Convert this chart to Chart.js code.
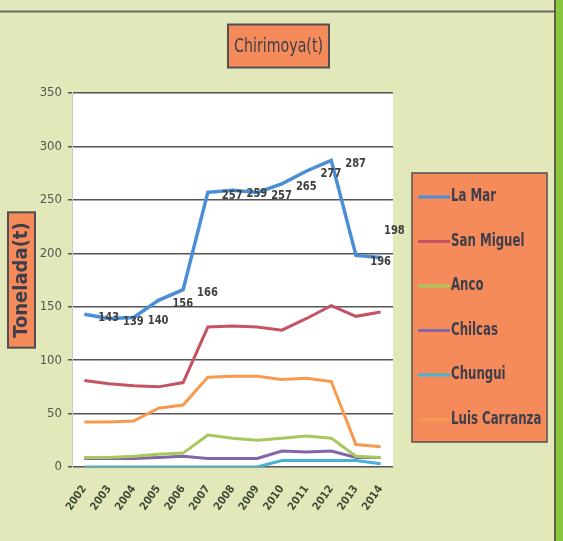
<!DOCTYPE html>
<html>
<head>
<meta charset="utf-8">
<script src="https://cdn.jsdelivr.net/npm/chart.js@4/dist/chart.umd.min.js"></script>
<style>
  html, body { margin: 0; padding: 0; background: #e3e8ba; }
  #wrap { width: 563px; height: 541px; }
</style>
</head>
<body>
<div id="wrap"><canvas id="chirimoyaChart"></canvas></div>
<script>
// Producción de chirimoya por distrito (toneladas)
const titulo = 'Chirimoya(t)';
const years = ['2002', '2003', '2004', '2005', '2006', '2007', '2008', '2009', '2010', '2011', '2012', '2013', '2014'];
const laMar = [143, 139, 140, 156, 166, 257, 259, 257, 265, 277, 287, 198, 196];
const sanMiguel = [81, 78, 76, 75, 79, 131, 132, 131, 128, 139, 151, 141, 145];
const anco = [9, 9, 10, 12, 13, 30, 27, 25, 27, 29, 27, 10, 9];
const chilcas = [8, 8, 8, 9, 10, 8, 8, 8, 15, 14, 15, 9, 9];
const chungui = [0, 0, 0, 0, 0, 0, 0, 0, 6, 6, 6, 6, 3];
const luisCarranza = [42, 42, 43, 55, 58, 84, 85, 85, 82, 83, 80, 21, 19];
const yTicks = [0, 50, 100, 150, 200, 250, 300, 350];

const NARROW = "'Liberation Sans Narrow', 'DejaVu Sans Condensed', 'Open Sans', sans-serif";
const BG = '#e3e8ba';
const BOX_ORANGE = '#f58b5a';
const BOX_BORDER = '#505050';
const TEXT_DARK = '#3e3e4a';

function serie(label, data, color, width) {
    return {
        label: label,
        data: data,
        borderColor: color,
        backgroundColor: color,
        borderWidth: width || 3,
        pointRadius: 0,
        tension: 0,
        fill: false
    };
}

// texto comprimido horizontalmente (imita la fuente angosta del original)
function textoAngosto(ctx, text, x, y, sx) {
    ctx.save();
    ctx.translate(x, y);
    ctx.scale(sx, 1);
    ctx.fillText(text, 0, 0);
    ctx.restore();
}

// Fondo, recuadros del título y del eje Y, marco de la hoja
const fondoPlugin = {
    id: 'fondo',
    beforeDraw(chart) {
        const {ctx, chartArea, width, height} = chart;
        ctx.save();
        ctx.fillStyle = BG;
        ctx.fillRect(0, 0, width, height);
        ctx.fillStyle = '#ffffff';
        ctx.fillRect(chartArea.left, chartArea.top, chartArea.right - chartArea.left, chartArea.bottom - chartArea.top);

        // título en recuadro naranja
        const tcx = width / 2 - 3;
        const tcy = 45.5;
        ctx.font = `20px ${NARROW}`;
        const tw = ctx.measureText(titulo).width * 0.79;
        ctx.fillStyle = BOX_ORANGE;
        ctx.strokeStyle = BOX_BORDER;
        ctx.lineWidth = 2;
        ctx.fillRect(tcx - tw / 2 - 6, tcy - 21, tw + 12, 43);
        ctx.strokeRect(tcx - tw / 2 - 6, tcy - 21, tw + 12, 43);
        ctx.fillStyle = TEXT_DARK;
        ctx.textAlign = 'center';
        ctx.textBaseline = 'middle';
        textoAngosto(ctx, titulo, tcx, tcy + 1, 0.79);

        // recuadro del título del eje Y
        const yOpts = chart.options.scales.y.title;
        const ys = chart.scales.y;
        ctx.font = `bold ${yOpts.font.size}px ${NARROW}`;
        const yw = ctx.measureText(yOpts.text).width;
        const ycx = ys.left + yOpts.padding.top + yOpts.font.size * 0.6;
        const ycy = (chartArea.top + chartArea.bottom) / 2;
        ctx.fillStyle = BOX_ORANGE;
        ctx.fillRect(ycx - 13.5, ycy - yw / 2 - 10, 27, yw + 20);
        ctx.strokeRect(ycx - 13.5, ycy - yw / 2 - 10, 27, yw + 20);

        // marco de la hoja escaneada
        ctx.strokeStyle = '#6a6a6a';
        ctx.lineWidth = 2;
        ctx.beginPath();
        ctx.moveTo(0, 11.5);
        ctx.lineTo(555, 11.5);
        ctx.stroke();
        ctx.fillStyle = '#8cc63e';
        ctx.fillRect(556, 0, width - 556, height);
        ctx.strokeStyle = '#2e3a22';
        ctx.lineWidth = 1.5;
        ctx.beginPath();
        ctx.moveTo(555, 0);
        ctx.lineTo(555, height);
        ctx.stroke();
        ctx.restore();
    }
};

// Etiquetas de datos de La Mar
const etiquetasPlugin = {
    id: 'etiquetas',
    afterDatasetsDraw(chart) {
        const {ctx} = chart;
        const meta = chart.getDatasetMeta(0);
        const values = chart.data.datasets[0].data;
        const n = meta.data.length;
        ctx.save();
        ctx.font = `bold 13px ${NARROW}`;
        ctx.fillStyle = '#404040';
        ctx.textBaseline = 'middle';
        meta.data.forEach((pt, i) => {
            let x = pt.x + 14, y = pt.y + 3, align = 'left';
            if (i === n - 1) { x = pt.x; align = 'center'; y = pt.y + 4; }
            if (i === n - 2) { x = pt.x + 28; y = pt.y - 25; }
            ctx.textAlign = align;
            textoAngosto(ctx, String(values[i]), x, y, 0.85);
        });
        ctx.restore();
    }
};

// Leyenda en recuadro naranja
const leyendaPlugin = {
    id: 'leyenda',
    afterDraw(chart) {
        const {ctx, chartArea} = chart;
        const left = chartArea.right + 19;
        const top = chartArea.top + 80;
        const w = 135, h = 269;
        ctx.save();
        ctx.fillStyle = BOX_ORANGE;
        ctx.strokeStyle = BOX_BORDER;
        ctx.lineWidth = 1.5;
        ctx.fillRect(left, top, w, h);
        ctx.strokeRect(left, top, w, h);
        ctx.font = `bold 17px ${NARROW}`;
        ctx.textBaseline = 'middle';
        ctx.textAlign = 'left';
        chart.data.datasets.forEach((ds, i) => {
            const y = top + 24 + i * 44.5;
            ctx.strokeStyle = ds.borderColor;
            ctx.lineWidth = 3;
            ctx.beginPath();
            ctx.moveTo(left + 6, y);
            ctx.lineTo(left + 38, y);
            ctx.stroke();
            ctx.fillStyle = TEXT_DARK;
            textoAngosto(ctx, ds.label, left + 39, y, 0.77);
        });
        ctx.restore();
    }
};

new Chart(document.getElementById('chirimoyaChart'), {
    type: 'line',
    data: {
        labels: years,
        datasets: [
            serie('La Mar', laMar, '#4a8fd6', 3.5),
            serie('San Miguel', sanMiguel, '#c45462'),
            serie('Anco', anco, '#a7c85a'),
            serie('Chilcas', chilcas, '#8266a8'),
            serie('Chungui', chungui, '#48b2d6'),
            serie('Luis Carranza', luisCarranza, '#f89a4e')
        ]
    },
    options: {
        responsive: true,
        maintainAspectRatio: false,
        animation: false,
        layout: {
            padding: {left: 0, right: 170, top: 93, bottom: 0}
        },
        plugins: {
            legend: {display: false},
            tooltip: {enabled: false},
            title: {display: false}
        },
        scales: {
            x: {
                offset: true,
                grid: {display: false, drawTicks: false},
                border: {display: false},
                ticks: {
                    minRotation: 55,
                    maxRotation: 55,
                    padding: 16,
                    color: '#3d4a35',
                    font: {family: NARROW, size: 11, weight: 'bold'}
                },
                afterFit(scale) { scale.height = 74; }
            },
            y: {
                min: 0,
                max: 350,
                afterBuildTicks(scale) {
                    scale.ticks = yTicks.map(v => ({value: v}));
                },
                grid: {color: '#555555', lineWidth: 1.5, tickLength: 4},
                border: {display: true, color: '#c8c8c8', width: 1},
                ticks: {
                    padding: 6,
                    color: '#555555',
                    font: {family: NARROW, size: 13}
                },
                title: {
                    display: true,
                    text: 'Tonelada(t)',
                    color: TEXT_DARK,
                    font: {family: NARROW, size: 20, weight: 'bold'},
                    padding: {top: 9.5, bottom: 0}
                },
                afterFit(scale) { scale.width = 72; }
            }
        }
    },
    plugins: [fondoPlugin, etiquetasPlugin, leyendaPlugin]
});
</script>
</body>
</html>
